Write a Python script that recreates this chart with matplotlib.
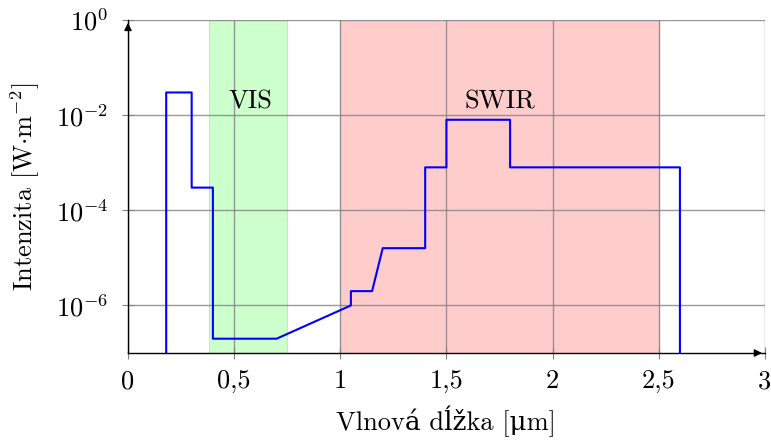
import matplotlib
matplotlib.use('Agg')
import matplotlib.pyplot as plt

# spektrum (vlnova delka v um, intenzita ve W/m^2)
wavelength = [0.18, 0.18, 0.30, 0.30, 0.40, 0.40, 0.70, 1.05, 1.05, 1.15, 1.20, 1.40, 1.40,
              1.50, 1.50, 1.80, 1.80, 2.60, 2.60]
intensity = [1e-7, 3e-2, 3e-2, 3e-4, 3e-4, 2e-7, 2e-7, 1e-6, 2e-6, 2e-6, 1.6e-5, 1.6e-5, 8e-4,
             8e-4, 8e-3, 8e-3, 8e-4, 8e-4, 1e-7]

bands = ['VIS', 'SWIR']
band_start = [0.38, 1.0]
band_end = [0.75, 2.5]
band_label_x = [0.575, 1.75]
band_label_y = [1.9e-2, 1.9e-2]

xticks = [0, 0.5, 1, 1.5, 2, 2.5, 3]
xtick_labels = ['0', '0,5', '1', '1,5', '2', '2,5', '3']
yticks = [1e-6, 1e-4, 1e-2, 1e0]
ytick_labels = [r'$10^{-6}$', r'$10^{-4}$', r'$10^{-2}$', r'$10^{0}$']

FS = 19

plt.rcParams['mathtext.fontset'] = 'cm'
plt.rcParams['font.family'] = ['cmr10', 'DejaVu Serif']
plt.rcParams['axes.unicode_minus'] = False

fig = plt.figure(figsize=(7.71, 4.41), dpi=100)
ax = fig.add_axes([0.166, 0.1995, 0.826, 0.7551])

band_colors = [(0.8, 1.0, 0.8), (1.0, 0.8, 0.8)]
for b, s, e, c in zip(bands, band_start, band_end, band_colors):
    ax.axvspan(s, e, color=c, zorder=0, lw=0.8, ec=(0.6, 0.6, 0.6, 0.3))

for b, lx, ly in zip(bands, band_label_x, band_label_y):
    ax.text(lx, ly, b, ha='center', va='center', fontsize=FS, zorder=4)

ax.plot(wavelength, intensity, color='blue', lw=1.5, zorder=3)

ax.set_yscale('log')
ax.set_xlim(0, 3)
ax.set_ylim(1e-7, 1e0)
ax.set_xticks(xticks)
ax.set_xticklabels(xtick_labels, fontsize=FS)
ax.set_yticks(yticks)
ax.set_yticklabels(ytick_labels, fontsize=FS)
ax.minorticks_off()
ax.tick_params(direction='inout', length=8, color='gray')
ax.tick_params(axis='x', pad=8)
ax.tick_params(axis='y', pad=10)

ax.set_axisbelow(False)
ax.grid(True, color=(0.5, 0.5, 0.5), lw=1.0, alpha=0.8)

for side in ['top', 'right']:
    ax.spines[side].set_visible(False)
ax.spines['left'].set_linewidth(1.0)
ax.spines['bottom'].set_linewidth(1.0)
ax.spines['left'].set_zorder(5)
ax.spines['bottom'].set_zorder(5)

# sipky na osach
ax.annotate('', xy=(1.0, 0), xytext=(0.98, 0), xycoords='axes fraction',
            arrowprops=dict(arrowstyle='-|>', color='black', lw=1.0,
                            mutation_scale=11), zorder=6)
ax.annotate('', xy=(0, 1.0), xytext=(0, 0.97), xycoords='axes fraction',
            arrowprops=dict(arrowstyle='-|>', color='black', lw=1.0,
                            mutation_scale=11), zorder=6)

ax.set_xlabel('Vlnová dĺžka [\u03bcm]', fontsize=FS, labelpad=9)
ax.set_ylabel(r'Intenzita [W$\cdot$m$^{\mathrm{-2}}$]', fontsize=FS, labelpad=10)

fig.savefig('out.png', dpi=100)
